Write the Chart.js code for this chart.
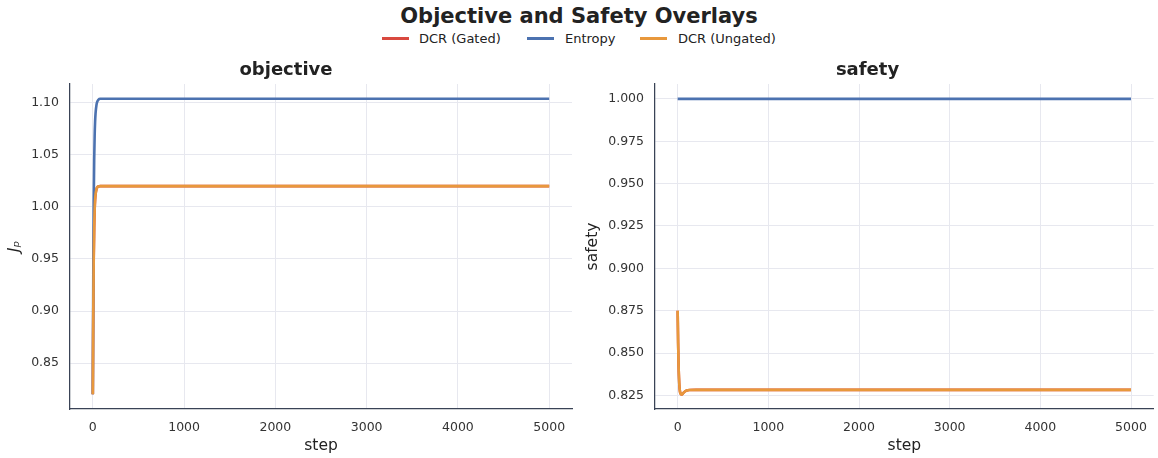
<!DOCTYPE html>
<html><head><meta charset="utf-8">
<script src="https://cdn.jsdelivr.net/npm/chart.js@4"></script>
<style>
html,body{margin:0;padding:0;background:#fff;}
#fig{position:relative;width:1158px;height:458px;overflow:hidden;font-family:'DejaVu Sans','Noto Sans',sans-serif;color:#222;background:#fff;}
#sup{position:absolute;left:0;top:4px;width:1158px;text-align:center;font-weight:bold;font-size:21px;line-height:25px;color:#222;}
.lg{position:absolute;top:31px;height:16px;font-size:13px;line-height:16px;white-space:nowrap;color:#222;}
.sw{position:absolute;left:0;top:6px;height:2.5px;width:27px;}
.tx{position:absolute;top:0;}
canvas{position:absolute;top:50px;}
</style></head>
<body>
<div id="fig">
  <div id="sup">Objective and Safety Overlays</div>
  <div class="lg" style="left:382px"><span class="sw" style="background:#d9493f"></span><span class="tx" style="left:37px">DCR (Gated)</span></div>
  <div class="lg" style="left:527px"><span class="sw" style="background:#4c72b0"></span><span class="tx" style="left:38px">Entropy</span></div>
  <div class="lg" style="left:640px"><span class="sw" style="background:#e8983c"></span><span class="tx" style="left:38px">DCR (Ungated)</span></div>
  <canvas id="c1" width="579" height="408" style="left:0px"></canvas>
  <canvas id="c2" width="579" height="408" style="left:579px"></canvas>
</div>
<script>
// ---- data ----
const steps          = [0, 5, 10, 15, 20, 25, 30, 40, 50, 60, 80, 100, 130, 200, 500, 1000, 2000, 3000, 4000, 5000];
const objGated       = [0.820, 0.900, 0.950, 0.980, 0.997, 1.007, 1.012, 1.017, 1.019, 1.0197, 1.020, 1.020, 1.020, 1.020, 1.020, 1.020, 1.020, 1.020, 1.020, 1.020];
const objEntropy     = [0.820, 0.935, 1.005, 1.045, 1.068, 1.082, 1.090, 1.098, 1.1015, 1.103, 1.104, 1.104, 1.104, 1.104, 1.104, 1.104, 1.104, 1.104, 1.104, 1.104];
const objUngated     = [0.820, 0.900, 0.950, 0.980, 0.997, 1.007, 1.012, 1.017, 1.019, 1.0197, 1.020, 1.020, 1.020, 1.020, 1.020, 1.020, 1.020, 1.020, 1.020, 1.020];
const safGated       = [0.875, 0.856, 0.843, 0.835, 0.830, 0.8275, 0.8263, 0.8256, 0.8257, 0.8263, 0.8273, 0.8279, 0.8282, 0.8283, 0.8283, 0.8283, 0.8283, 0.8283, 0.8283, 0.8283];
const safEntropy     = [1.000, 1.000, 1.000, 1.000, 1.000, 1.000, 1.000, 1.000, 1.000, 1.000, 1.000, 1.000, 1.000, 1.000, 1.000, 1.000, 1.000, 1.000, 1.000, 1.000];
const safUngated     = [0.875, 0.856, 0.843, 0.835, 0.830, 0.8275, 0.8263, 0.8256, 0.8257, 0.8263, 0.8273, 0.8279, 0.8282, 0.8283, 0.8283, 0.8283, 0.8283, 0.8283, 0.8283, 0.8283];
const seriesNames    = ['DCR (Gated)', 'Entropy', 'DCR (Ungated)'];
const xTicks         = [0, 1000, 2000, 3000, 4000, 5000];
const objTicks       = [0.85, 0.90, 0.95, 1.00, 1.05, 1.10];
const safTicks       = [0.825, 0.850, 0.875, 0.900, 0.925, 0.950, 0.975, 1.000];

const colors = ['#d9493f', '#4c72b0', '#e8983c'];
Chart.defaults.font.family = "'DejaVu Sans','Noto Sans',sans-serif";
Chart.defaults.color = '#333';

function pts(ys){ return steps.map((s,i)=>({x:s, y:ys[i]})); }

function makeChart(id, cfg){
  const ds = cfg.series.map((ys,i)=>({
    label: seriesNames[i], data: pts(ys), borderColor: colors[i], backgroundColor: colors[i],
    borderWidth: 2.6, pointRadius: 0, cubicInterpolationMode: 'monotone', order: 2 - i
  }));
  return new Chart(document.getElementById(id), {
    type: 'line',
    data: { datasets: ds },
    options: {
      responsive: false, animation: false, events: [],
      layout: { padding: { left: 0, right: cfg.rightPad, top: 0, bottom: 0 } },
      plugins: {
        legend: { display: false },
        tooltip: { enabled: false },
        title: { display: true, text: cfg.title, color: '#222', font: { size: 18, weight: 'bold' }, padding: { top: 9.7, bottom: 2.7 } }
      },
      scales: {
        x: {
          type: 'linear', min: -250, max: 5250,
          afterBuildTicks: s => { s.ticks = xTicks.map(v=>({value:v})); },
          afterFit: s => { s.height = 49; },
          ticks: { font: { size: 12.5 }, color: '#333', padding: 11, maxRotation: 0, callback: v => String(v) },
          grid: { color: '#e7e8ef', lineWidth: 1, drawTicks: false },
          border: { display: true, color: '#3a4356', width: 1.25 },
          title: { display: true, text: 'step', color: '#222', font: { size: 15.5 }, padding: { top: 0, bottom: 3 } }
        },
        y: {
          type: 'linear', min: cfg.ymin, max: cfg.ymax,
          afterBuildTicks: s => { s.ticks = cfg.yTicks.map(v=>({value:v})); },
          afterFit: s => { s.width = cfg.yWidth; },
          ticks: { font: { size: 12.5 }, color: '#333', padding: 11, callback: v => v.toFixed(cfg.dec) },
          grid: { color: '#e7e8ef', lineWidth: 1, drawTicks: false },
          border: { display: true, color: '#3a4356', width: 1.25 },
          title: { display: true, text: cfg.yTitle, color: '#222', font: { size: 15.5, style: cfg.italic ? 'italic' : 'normal' }, padding: { top: cfg.yTitlePad, bottom: 0 } }
        }
      }
    }
  });
}

makeChart('c1', { title: 'objective', series: [objGated, objEntropy, objUngated], ymin: 0.8058, ymax: 1.1182,
  yTicks: objTicks, dec: 2, yWidth: 70, rightPad: 7, yTitle: 'Jₚ', italic: true, yTitlePad: 6 });
makeChart('c2', { title: 'safety', series: [safGated, safEntropy, safUngated], ymin: 0.8170, ymax: 1.0088,
  yTicks: safTicks, dec: 3, yWidth: 76, rightPad: 2, yTitle: 'safety', italic: false, yTitlePad: 5 });
</script>
</body></html>
